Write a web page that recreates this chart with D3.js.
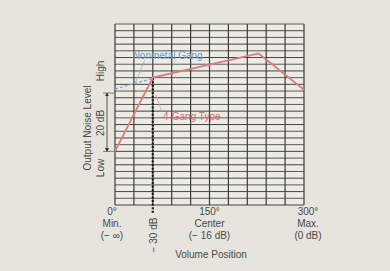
<!DOCTYPE html>
<html lang="en">
<head>
<meta charset="utf-8">
<title>Output Noise Level</title>
<script src="https://d3js.org/d3.v7.min.js"></script>
<style>
  body { margin: 0; background: #e6e4dc; }
  svg text { font-family: "Liberation Sans", Arial, sans-serif; fill: #4a4a4a; }
</style>
</head>
<body>
<div id="chart"></div>
<script>
// volume position in degrees, noise level in grid rows (0..27)
const fourGang = [[0, 8], [60, 19], [228, 22.6], [300, 17.2]];
const nonmetal = [[0, 17.3], [60, 18.9]];
const xTicks = [0, 30, 60, 90, 120, 150, 180, 210, 240, 270, 300];
const yRows = d3.range(0, 28);
const xLabels = [
  {deg: 0, lines: ["0°", "Min.", "(− ∞)"]},
  {deg: 150, lines: ["150°", "Center", "(− 16 dB)"]},
  {deg: 300, lines: ["300°", "Max.", "(0 dB)"]}
];
const cutDeg = 60;

const width = 390, height = 271;
const svg = d3.select("#chart").append("svg")
  .attr("width", width).attr("height", height);

const x = d3.scaleLinear().domain([0, 300]).range([115, 304]);
const y = d3.scaleLinear().domain([0, 27]).range([205, 24]);

// plot area
svg.append("rect")
  .attr("x", x(0)).attr("y", y(27))
  .attr("width", x(300) - x(0)).attr("height", y(0) - y(27))
  .attr("fill", "#ecebe5");

// grid
svg.append("g").selectAll("line").data(yRows).join("line")
  .attr("x1", x(0)).attr("x2", x(300))
  .attr("y1", d => y(d)).attr("y2", d => y(d))
  .attr("stroke", d => d % 2 ? "#5a5a5a" : "#444")
  .attr("stroke-width", 1);
svg.append("g").selectAll("line").data(xTicks).join("line")
  .attr("x1", d => x(d)).attr("x2", d => x(d))
  .attr("y1", y(0)).attr("y2", y(27))
  .attr("stroke", "#3c3c3c")
  .attr("stroke-width", 1.2);

const line = d3.line().x(d => x(d[0])).y(d => y(d[1]));

// -30 dB dotted marker
svg.append("line")
  .attr("x1", x(cutDeg)).attr("x2", x(cutDeg))
  .attr("y1", y(19)).attr("y2", 213)
  .attr("stroke", "#1a1a1a").attr("stroke-width", 2.2)
  .attr("stroke-dasharray", "2,1.6");

// nonmetal gang (dashed blue)
svg.append("path").datum(nonmetal)
  .attr("d", line).attr("fill", "none")
  .attr("stroke", "#7fa6c8").attr("stroke-width", 1.3)
  .attr("stroke-dasharray", "3,2");
svg.append("line")
  .attr("x1", x(32)).attr("y1", y(18.1))
  .attr("x2", x(47)).attr("y2", y(21.6))
  .attr("stroke", "#8fb0cc").attr("stroke-width", 0.8);

// 4-gang type (red)
svg.append("path").datum(fourGang)
  .attr("d", line).attr("fill", "none")
  .attr("stroke", "#dc7c80").attr("stroke-width", 1.8);
svg.append("line")
  .attr("x1", x(65)).attr("y1", y(16.4))
  .attr("x2", x(74)).attr("y2", y(14))
  .attr("stroke", "#d9a0a0").attr("stroke-width", 0.8);

svg.append("text").text("Nonmetal Gang")
  .attr("x", x(28)).attr("y", 59)
  .attr("font-size", 10).style("fill", "#6f9cc6");
svg.append("text").text("4-Gang Type")
  .attr("x", x(76)).attr("y", 120)
  .attr("font-size", 10).style("fill", "#d86f70");

// 20 dB bracket
const bracketX = 107;
svg.append("defs").append("marker")
  .attr("id", "arr").attr("viewBox", "0 0 6 6")
  .attr("refX", 5).attr("refY", 3)
  .attr("markerWidth", 5).attr("markerHeight", 5)
  .attr("orient", "auto-start-reverse")
  .append("path").attr("d", "M0,0L6,3L0,6Z").attr("fill", "#333");
svg.append("line")
  .attr("x1", bracketX).attr("x2", bracketX)
  .attr("y1", y(16.7)).attr("y2", y(8))
  .attr("stroke", "#333").attr("stroke-width", 0.8)
  .attr("marker-start", "url(#arr)").attr("marker-end", "url(#arr)");
[16.7, 8].forEach(v => {
  svg.append("line")
    .attr("x1", 103).attr("x2", x(0))
    .attr("y1", y(v)).attr("y2", y(v))
    .attr("stroke", "#555").attr("stroke-width", 0.7);
});

// y labels
const yLab = (txt, cx, cy) => svg.append("text").text(txt)
  .attr("transform", `translate(${cx},${cy}) rotate(-90)`)
  .attr("text-anchor", "middle").attr("dy", "0.35em")
  .attr("font-size", 10);
yLab("Output Noise Level", 87, 128);
yLab("Low", 100, 168);
yLab("20 dB", 100, 123);
yLab("High", 100, 71);

// x labels
xLabels.forEach(l => {
  const t = svg.append("text")
    .attr("text-anchor", "middle").attr("font-size", 10);
  l.lines.forEach((s, i) => {
    t.append("tspan").text(s)
      .attr("x", x(l.deg) + (l.deg === 300 ? 4 : (l.deg === 0 ? -3 : 0)))
      .attr("y", 215 + i * 12);
  });
});
yLab("− 30 dB", x(cutDeg) + 1, 235);
svg.append("text").text("Volume Position")
  .attr("x", 211).attr("y", 258)
  .attr("text-anchor", "middle").attr("font-size", 10);
</script>
</body>
</html>
